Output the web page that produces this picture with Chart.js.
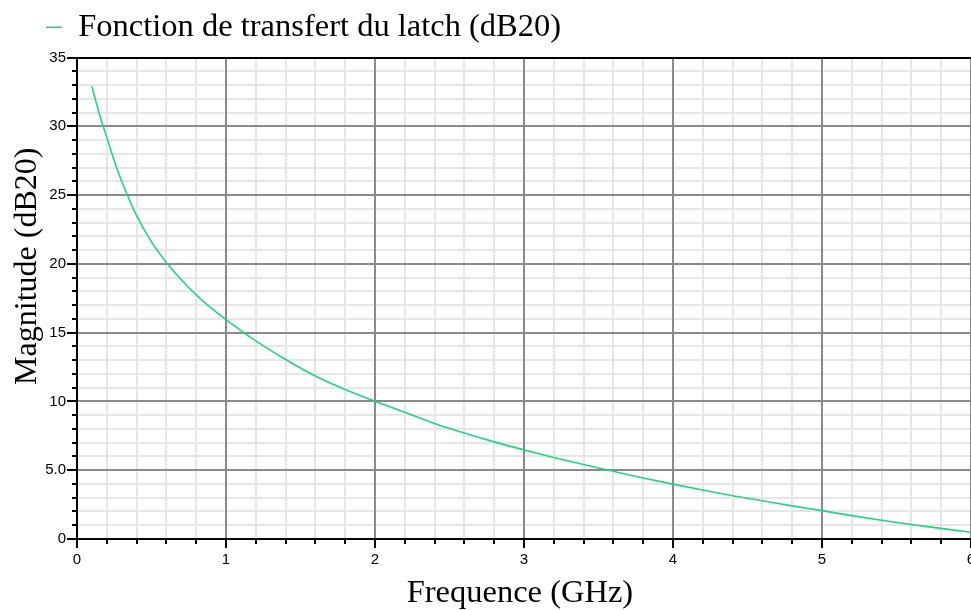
<!DOCTYPE html>
<html>
<head>
<meta charset="utf-8">
<script src="https://cdn.jsdelivr.net/npm/chart.js@4.4.1/dist/chart.umd.min.js"></script>
<style>
  html, body { margin: 0; padding: 0; background: #fff; overflow: hidden; }
  #wrap { position: relative; width: 971px; height: 610px; overflow: hidden; }
  canvas { display: block; }
</style>
</head>
<body>
<div id="wrap"><canvas id="c" width="1000" height="610"></canvas></div>
<script>
// ---- Data ----
const seriesLabel = 'Fonction de transfert du latch (dB20)';
const xAxisTitle = 'Frequence (GHz)';
const yAxisTitle = 'Magnitude (dB20)';
const frequencies = [0.1, 0.15, 0.2, 0.25, 0.3, 0.35, 0.4, 0.5, 0.6, 0.7, 0.8, 0.9, 1.0,
  1.2, 1.4, 1.6, 1.8, 2.0, 2.2, 2.4, 2.6, 2.8, 3.0, 3.2, 3.4, 3.6, 3.8, 4.0,
  4.2, 4.4, 4.6, 4.8, 5.0, 5.2, 5.4, 5.6, 5.8, 6.0];
const magnitudes = [32.9, 30.9, 29.2, 27.5, 26.0, 24.7, 23.5, 21.6, 20.1, 18.85, 17.75, 16.8, 15.95,
  14.4, 13.05, 11.85, 10.87, 10.02, 9.22, 8.4, 7.7, 7.06, 6.48, 5.93, 5.41, 4.92, 4.44, 3.99,
  3.56, 3.15, 2.78, 2.41, 2.06, 1.7, 1.36, 1.05, 0.77, 0.49];
const xTickValues = [0, 1, 2, 3, 4, 5, 6];
const xTickLabels = ['0', '1', '2', '3', '4', '5', '6'];
const yTickValues = [0, 5, 10, 15, 20, 25, 30, 35];
const yTickLabels = ['0', '5.0', '10', '15', '20', '25', '30', '35'];

const GREEN = '#22d47f';
const MAJOR = '#8a8a8a';
const MINOR = '#e6e6e6';

function findIdx(arr, v) {
  for (let i = 0; i < arr.length; i++) if (Math.abs(arr[i] - v) < 1e-6) return i;
  return -1;
}

const styling = {
  id: 'styling',
  afterLayout(chart) {
    // position the legend like the reference (left aligned, slightly higher)
    chart.legend.left += 36;
    chart.legend.right += 36;
    chart.legend.top -= 4;
    chart.legend.bottom -= 4;
  },
  beforeDraw(chart) {
    // keep dark major grid lines on top of light minor ones
    chart.ctx.globalCompositeOperation = 'darken';
  },
  beforeDatasetsDraw(chart) {
    chart.ctx.globalCompositeOperation = 'source-over';
  },
  afterDraw(chart) {
    const ctx = chart.ctx;
    const xs = chart.scales.x, ys = chart.scales.y;
    ctx.save();
    ctx.globalCompositeOperation = 'source-over';
    ctx.strokeStyle = '#000';
    ctx.lineWidth = 2;
    ctx.beginPath();
    xs.ticks.forEach(t => {
      if (findIdx(xTickValues, t.value) < 0) {
        const px = Math.round(xs.getPixelForValue(t.value));
        ctx.moveTo(px, ys.bottom);
        ctx.lineTo(px, ys.bottom + 5);
      }
    });
    ys.ticks.forEach(t => {
      if (findIdx(yTickValues, t.value) < 0) {
        const py = Math.round(ys.getPixelForValue(t.value));
        ctx.moveTo(xs.left - 5, py);
        ctx.lineTo(xs.left, py);
      }
    });
    ctx.stroke();
    ctx.restore();
  }
};

new Chart(document.getElementById('c'), {
  type: 'line',
  data: {
    datasets: [{
      label: seriesLabel,
      data: frequencies.map((f, i) => ({ x: f, y: magnitudes[i] })),
      borderColor: GREEN,
      backgroundColor: GREEN,
      borderWidth: 1.6,
      pointRadius: 0,
      cubicInterpolationMode: 'monotone',
      fill: false
    }]
  },
  options: {
    responsive: false,
    animation: false,
    devicePixelRatio: 1,
    layout: { padding: { left: 0, right: 29, top: 5, bottom: 0 } },
    plugins: {
      legend: {
        position: 'top',
        align: 'start',
        labels: {
          usePointStyle: true,
          pointStyle: 'line',
          pointStyleWidth: 16,
          padding: 10,
          color: '#000',
          font: { family: '"Liberation Serif", "Times New Roman", serif', size: 32.5 }
        }
      },
      tooltip: { enabled: false }
    },
    scales: {
      x: {
        type: 'linear',
        min: 0, max: 6,
        afterFit(scale) { scale.height = 71; },
        ticks: {
          stepSize: 0.2,
          autoSkip: false,
          maxRotation: 0,
          padding: 3,
          color: '#000',
          font: { family: '"Liberation Sans", Arial, sans-serif', size: 15 },
          callback(v) { const i = findIdx(xTickValues, v); return i >= 0 ? xTickLabels[i] : ''; }
        },
        grid: {
          color: c => (findIdx(xTickValues, c.tick.value) >= 0 ? MAJOR : MINOR),
          lineWidth: 2,
          tickLength: 9,
          tickColor: c => (findIdx(xTickValues, c.tick.value) >= 0 ? '#000' : 'rgba(0,0,0,0)'),
          tickWidth: 2
        },
        border: { display: true, color: '#000', width: 2 },
        title: {
          display: true,
          text: xAxisTitle + ' ',
          color: '#000',
          padding: { top: 0, bottom: -1 },
          font: { family: '"Liberation Serif", "Times New Roman", serif', size: 32.5, lineHeight: 1.1 }
        }
      },
      y: {
        type: 'linear',
        min: 0, max: 35,
        afterFit(scale) { scale.width = 77; },
        ticks: {
          stepSize: 1,
          autoSkip: false,
          padding: 1,
          color: '#000',
          font: { family: '"Liberation Sans", Arial, sans-serif', size: 15 },
          callback(v) { const i = findIdx(yTickValues, v); return i >= 0 ? yTickLabels[i] : ''; }
        },
        grid: {
          color: c => (Math.abs(c.tick.value - 35) < 1e-6 ? '#000' : (findIdx(yTickValues, c.tick.value) >= 0 ? MAJOR : MINOR)),
          lineWidth: 2,
          tickLength: 10,
          tickColor: c => (findIdx(yTickValues, c.tick.value) >= 0 ? '#000' : 'rgba(0,0,0,0)'),
          tickWidth: 2
        },
        border: { display: true, color: '#000', width: 2 },
        title: {
          display: true,
          text: '        ' + yAxisTitle,
          color: '#000',
          padding: { top: 8, bottom: 0 },
          font: { family: '"Liberation Serif", "Times New Roman", serif', size: 32, lineHeight: 1.2 }
        }
      }
    }
  },
  plugins: [styling]
});
</script>
</body>
</html>
